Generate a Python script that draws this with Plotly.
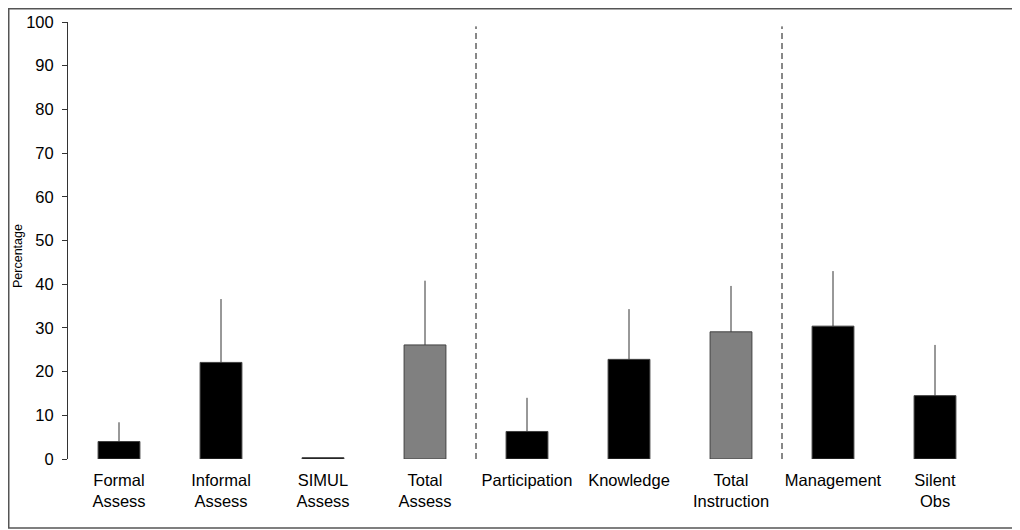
import plotly.graph_objects as go

categories = ["Formal<br>Assess", "Informal<br>Assess", "SIMUL<br>Assess", "Total<br>Assess",
              "Participation", "Knowledge", "Total<br>Instruction", "Management", "Silent<br>Obs"]
values = [4.0, 22.1, 0.3, 26.1, 6.3, 22.8, 29.1, 30.4, 14.5]
error_upper = [4.4, 14.5, 0.0, 14.7, 7.7, 11.5, 10.5, 12.6, 11.6]
bar_colors = ["#000000", "#000000", "#000000", "#808080", "#000000", "#000000", "#808080", "#000000", "#000000"]
separators = [3.5, 6.5]
y_ticks = list(range(0, 101, 10))

x_idx = list(range(len(categories)))

fig = go.Figure()
fig.add_trace(go.Bar(
    x=x_idx, y=values, width=0.41,
    marker=dict(color=bar_colors, line=dict(color="#404040", width=1)),
    error_y=dict(type="data", symmetric=False, array=error_upper,
                 arrayminus=[0] * len(values), width=0, thickness=1, color="#333333"),
    hoverinfo="y",
))

for s in separators:
    fig.add_shape(type="line", xref="x", yref="y", x0=s, x1=s, y0=0, y1=99,
                  line=dict(color="#111111", width=1, dash="6px,4px"))

# page body has an 8px margin; layout is in figure pixels
W, H = 1012, 522
L, T = 60, 14
R = W - 978
B = H - 451
pw, ph = W - L - R, H - T - B

def px_x(x):
    return (x - L) / pw

def px_y(y):
    return (H - B - y) / ph

# figure border
fig.add_shape(type="rect", xref="paper", yref="paper",
              x0=px_x(0.75), x1=px_x(1009),
              y0=px_y(520), y1=px_y(0.75),
              line=dict(color="#555555", width=1.5), fillcolor="rgba(0,0,0,0)", layer="below")

fig.add_annotation(text="Percentage", xref="paper", yref="paper",
                   x=px_x(10), y=px_y(248), textangle=-90,
                   showarrow=False,
                   font=dict(size=12.5, color="#000000",
                             family="Liberation Sans, Arial, sans-serif"),
                   xanchor="center", yanchor="middle")

fig.update_layout(
    width=W, height=H,
    margin=dict(l=L, r=R, t=T, b=B, pad=0, autoexpand=False),
    paper_bgcolor="white", plot_bgcolor="white",
    font=dict(family="Liberation Sans, Arial, sans-serif", size=16.5, color="#000000"),
    showlegend=False,
    bargap=0.59,
    xaxis=dict(tickmode="array", tickvals=x_idx, ticktext=categories,
               range=[-0.5, len(categories) - 0.5], showline=False, showgrid=False,
               zeroline=False, ticks="", ticklabelstandoff=9, automargin=False),
    yaxis=dict(range=[0, 100], tickvals=y_ticks, showline=True, linecolor="#333333",
               linewidth=1, ticks="outside", ticklen=5, tickcolor="#333333",
               showgrid=False, zeroline=False, ticklabelstandoff=5, automargin=False,
               tickfont=dict(size=16.5)),
)

fig.write_html("out.html")
